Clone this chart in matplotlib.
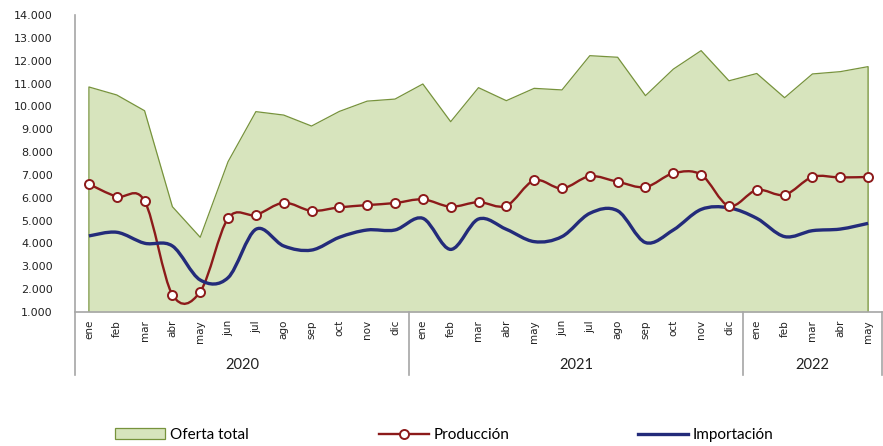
import numpy as np
import matplotlib
matplotlib.use("Agg")
import matplotlib.pyplot as plt
from matplotlib.path import Path
from matplotlib.patches import PathPatch, Patch
from matplotlib.lines import Line2D

# datos (miles de toneladas)
meses = ["ene", "feb", "mar", "abr", "may", "jun", "jul", "ago", "sep", "oct", "nov", "dic"] * 2 + \
        ["ene", "feb", "mar", "abr", "may"]
anios = ["2020", "2021", "2022"]
meses_por_anio = [12, 12, 5]

oferta = [10.85, 10.50, 9.81, 5.61, 4.27, 7.58, 9.77, 9.62, 9.14, 9.78, 10.23, 10.32,
          10.98, 9.33, 10.82, 10.25, 10.79, 10.72, 12.22, 12.15, 10.47, 11.63, 12.44, 11.12,
          11.44, 10.38, 11.42, 11.52, 11.74]
produccion = [6.60, 6.05, 5.86, 1.76, 1.89, 5.10, 5.25, 5.78, 5.43, 5.58, 5.68, 5.77,
              5.93, 5.61, 5.81, 5.65, 6.76, 6.41, 6.94, 6.70, 6.47, 7.07, 7.01, 5.64,
              6.34, 6.13, 6.91, 6.89, 6.91]
importacion = [4.33, 4.49, 4.01, 3.89, 2.40, 2.50, 4.62, 3.89, 3.71, 4.27, 4.59, 4.59,
               5.10, 3.74, 5.07, 4.62, 4.08, 4.30, 5.32, 5.43, 4.04, 4.59, 5.49, 5.56,
               5.10, 4.30, 4.56, 4.63, 4.88]

verde = "#d7e4bd"
verde_borde = "#77933c"
rojo = "#8c1a1a"
azul = "#232b7a"
gris = "#a6a6a6"
fuente_estrecha = ["Lato", "DejaVu Sans"]


def curva_suave(xs, ys):
    # linea suavizada tipo Excel (Catmull-Rom convertido a Bezier)
    pts = np.column_stack([xs, ys])
    ext = np.vstack([pts[0], pts, pts[-1]])
    verts = [tuple(pts[0])]
    codes = [Path.MOVETO]
    for i in range(len(pts) - 1):
        p0, p1, p2, p3 = ext[i], ext[i + 1], ext[i + 2], ext[i + 3]
        c1 = p1 + (p2 - p0) / 6.0
        c2 = p2 - (p3 - p1) / 6.0
        verts += [tuple(c1), tuple(c2), tuple(p2)]
        codes += [Path.CURVE4] * 3
    return Path(verts, codes)


x = np.arange(len(meses))

fig = plt.figure(figsize=(8.83, 4.46), dpi=100)
ax = fig.add_axes([75 / 883, 1 - 312 / 446, 807 / 883, 297 / 446])

# area oferta total
ax.fill_between(x, 1, oferta, color=verde, linewidth=0, zorder=1)
ax.plot(np.r_[x[0], x, x[-1]], np.r_[1, oferta, 1], color=verde_borde, lw=0.9, zorder=2)

# produccion
ax.add_patch(PathPatch(curva_suave(x, produccion), fill=False, edgecolor=rojo, lw=1.7, zorder=3))
ax.plot(x, produccion, "o", ms=6.5, mfc="white", mec=rojo, mew=1.4, zorder=4)

# importacion
ax.add_patch(PathPatch(curva_suave(x, importacion), fill=False, edgecolor=azul, lw=2.4, zorder=3))

ax.set_xlim(-0.5, len(meses) - 0.5)
ax.set_ylim(1, 14)
ax.set_yticks(range(1, 15))
ax.set_yticklabels(["{:d}.000".format(v) for v in range(1, 15)], fontsize=8, color="#222222")
ax.tick_params(axis="y", length=0, pad=16)
ax.set_xticks([])

for s in ["top", "right"]:
    ax.spines[s].set_visible(False)
ax.spines["left"].set_visible(False)
ax.spines["bottom"].set_color(gris)
ax.spines["bottom"].set_linewidth(1.2)

trans = ax.get_xaxis_transform()
# eje vertical y separadores de anio
limites = np.r_[0, np.cumsum(meses_por_anio)] - 0.5
ax.plot([-0.5, -0.5], [1, -0.212], transform=trans, color=gris, lw=1.2, clip_on=False)
for b in limites[1:]:
    ax.plot([b, b], [0, -0.212], transform=trans, color=gris, lw=1.2, clip_on=False)

for xi, m in zip(x, meses):
    ax.text(xi, -0.027, m, transform=trans, rotation=90, ha="center", va="top",
            fontsize=7.5, color="#222222")

for i, a in enumerate(anios):
    centro = (limites[i] + limites[i + 1]) / 2
    ax.text(centro, -0.18, a, transform=trans, ha="center", va="center",
            fontsize=10.5, color="#222222", family=fuente_estrecha)

# leyenda
elementos = [
    (Patch(facecolor=verde, edgecolor=verde_borde, lw=0.9), "Oferta total", 115),
    (Line2D([], [], color=rojo, lw=1.7, marker="o", ms=6.5, mfc="white", mec=rojo, mew=1.4),
     "Producción", 379),
    (Line2D([], [], color=azul, lw=2.4), "Importación", 638),
]
for h, t, px in elementos:
    fig.legend([h], [t], loc="center left", bbox_to_anchor=(px / 883, 1 - 435 / 446),
               frameon=False, borderpad=0, borderaxespad=0, handlelength=3.3,
               handletextpad=0.3, prop={"family": fuente_estrecha, "size": 11})

fig.savefig("out.png", dpi=100)
